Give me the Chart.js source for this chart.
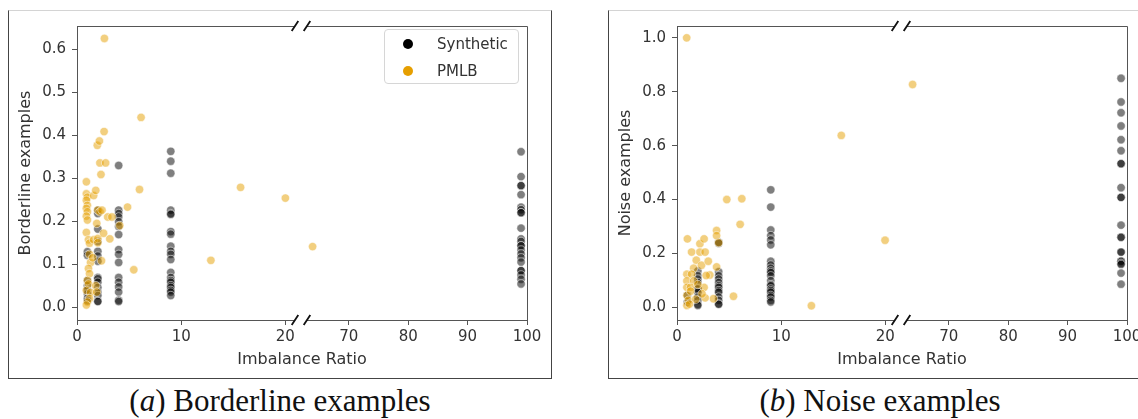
<!DOCTYPE html>
<html>
<head>
<meta charset="utf-8">
<script src="https://cdn.jsdelivr.net/npm/chart.js@4.4.1/dist/chart.umd.min.js"></script>
<style>
  body { margin: 0; width: 1138px; height: 419px; overflow: hidden; background: #fff; position: relative; font-family: "DejaVu Sans", sans-serif; }
  .panel { position: absolute; top: 10px; width: 544px; height: 369px; box-sizing: border-box; border: 1px solid #444; border-top-color: #d4d4d4; background: #fff; }
  .panel canvas { display: block; }
  .caption { position: absolute; top: 385px; width: 544px; text-align: center; font: 31px "Liberation Serif", serif; line-height: 31px; color: #111; white-space: nowrap; }
  .legend { position: absolute; left: 384px; top: 29px; width: 135px; height: 55px; box-sizing: border-box; border: 1px solid #d6d6d6; border-radius: 4px; background: rgba(255,255,255,0.8); font-size: 15px; color: #333; }
  .legend .row { position: absolute; left: 0; height: 20px; line-height: 20px; }
  .legend .dot { position: absolute; left: 18px; top: 5px; width: 10px; height: 10px; border-radius: 50%; }
  .legend .txt { position: absolute; left: 52px; top: 0; }
</style>
</head>
<body>

<div class="panel" style="left:8px"><canvas id="borderChart" width="542" height="367"></canvas></div>
<div class="panel" style="left:608px"><canvas id="noiseChart" width="542" height="367"></canvas></div>
<div class="legend" id="legend"></div>
<div class="caption" style="left:8px">(<i>a</i>) Borderline examples</div>
<div class="caption" style="left:608px">(<i>b</i>) Noise examples</div>

<script>
// imbalance ratios used by the generated datasets
const synthRatios = [1, 2, 4, 9, 99];

// share of borderline examples, one list per synthetic ratio
const synthBorderline = [
  [0.129, 0.121, 0.062, 0.050, 0.040, 0.031, 0.020, 0.015],
  [0.226, 0.218, 0.182, 0.153, 0.130, 0.119, 0.107, 0.069, 0.066, 0.058, 0.046, 0.035, 0.027, 0.014, 0.013],
  [0.330, 0.226, 0.218, 0.210, 0.199, 0.188, 0.169, 0.134, 0.123, 0.104, 0.069, 0.058, 0.047, 0.035, 0.016, 0.013],
  [0.363, 0.340, 0.312, 0.226, 0.218, 0.216, 0.176, 0.170, 0.142, 0.130, 0.123, 0.111, 0.081, 0.069, 0.062, 0.058, 0.050, 0.046, 0.039, 0.035, 0.027],
  [0.362, 0.304, 0.283, 0.283, 0.262, 0.233, 0.227, 0.220, 0.220, 0.184, 0.159, 0.153, 0.143, 0.143, 0.133, 0.124, 0.115, 0.105, 0.085, 0.085, 0.075, 0.065, 0.054]
];

// share of noise examples, one list per synthetic ratio
const synthNoise = [
  [0.045, 0.020],
  [0.135, 0.117, 0.105, 0.092, 0.068, 0.068, 0.056, 0.038, 0.026, 0.011, 0.007],
  [0.242, 0.238, 0.132, 0.117, 0.105, 0.092, 0.080, 0.074, 0.062, 0.056, 0.038, 0.026, 0.013, 0.011],
  [0.436, 0.372, 0.287, 0.266, 0.250, 0.232, 0.171, 0.157, 0.145, 0.135, 0.129, 0.117, 0.099, 0.084, 0.080, 0.068, 0.062, 0.056, 0.044, 0.038, 0.026, 0.020],
  [0.850, 0.762, 0.722, 0.673, 0.622, 0.581, 0.533, 0.533, 0.444, 0.408, 0.408, 0.305, 0.260, 0.260, 0.205, 0.205, 0.171, 0.171, 0.163, 0.159, 0.127, 0.086]
];

// PMLB datasets: imbalance ratio and borderline share
const pmlbBorderRatio = [0.9, 0.9, 1.0, 0.9, 1.0, 0.9, 1.0, 0.9, 1.0, 0.9, 1.1, 1.2, 1.2, 1.3, 1.1, 1.2, 1.0, 1.1, 0.9, 1.3,
  1.2, 1.0, 0.9, 1.6, 1.8, 1.6, 1.5, 1.8, 1.9, 1.95, 2.15, 2.6, 2.63, 2.2, 2.75, 2.3, 2.0, 2.2, 2.4, 1.9,
  2.0, 2.0, 2.95, 3.35, 2.55, 3.15, 2.35, 4.1, 4.85, 5.45, 6.0, 6.15, 12.85, 15.7, 20.0, 63.9];
const pmlbBorderline = [0.292, 0.264, 0.256, 0.249, 0.237, 0.230, 0.222, 0.212, 0.203, 0.174, 0.157, 0.149, 0.123, 0.104, 0.090, 0.078, 0.062, 0.054, 0.039, 0.034,
  0.020, 0.012, 0.005, 0.260, 0.272, 0.157, 0.115, 0.050, 0.035, 0.377, 0.387, 0.409, 0.626, 0.336, 0.336, 0.309, 0.226, 0.222, 0.226, 0.195,
  0.160, 0.150, 0.210, 0.210, 0.172, 0.159, 0.108, 0.190, 0.233, 0.087, 0.274, 0.442, 0.109, 0.279, 0.254, 0.141];

// PMLB datasets: imbalance ratio and noise share
const pmlbNoiseRatio = [0.93, 15.77, 63.9, 19.97, 4.78, 6.22, 6.06, 12.9, 5.42, 1.0, 2.2, 2.6, 3.8, 3.8, 4.0, 1.4, 2.2, 2.7, 1.85, 2.35,
  3.0, 1.6, 0.95, 1.4, 3.15, 2.8, 0.95, 1.6, 0.95, 1.3, 2.6, 3.5, 2.7, 0.95, 1.1, 0.95, 1.3, 1.8, 2.4, 2.0, 1.2, 3.8];
const pmlbNoise = [1.0, 0.638, 0.827, 0.249, 0.400, 0.403, 0.308, 0.006, 0.041, 0.254, 0.236, 0.254, 0.285, 0.266, 0.240, 0.205, 0.205, 0.205, 0.175, 0.156,
  0.171, 0.145, 0.123, 0.123, 0.120, 0.118, 0.098, 0.098, 0.074, 0.074, 0.074, 0.032, 0.035, 0.044, 0.026, 0.007, 0.060, 0.030, 0.050, 0.085, 0.012, 0.150];

// tick labels
const nearTicks = [0, 10, 20];
const farTicks = [70, 80, 90, 100];
const borderTicks = [0, 0.1, 0.2, 0.3, 0.4, 0.5, 0.6];
const noiseTicks = [0, 0.2, 0.4, 0.6, 0.8, 1.0];

// broken x axis: low part 0..NEAR_MAX, high part FAR_MIN..100
const NEAR_MAX = 21.5;
const FAR_MIN = 61.95;
const BREAK_HALF = 6;

const SPINE = '#555';
const TEXT = '#333';
const series = [
  { label: 'Synthetic', fill: 'rgba(0,0,0,0.5)', solid: '#000' },
  { label: 'PMLB', fill: 'rgba(230,159,0,0.5)', solid: '#E69F00' }
];

Chart.defaults.font.family = '"DejaVu Sans", sans-serif';

function groupedPoints(groups) {
  const pts = [];
  groups.forEach((vals, i) => vals.forEach(v => pts.push({ x: synthRatios[i], y: v })));
  return pts;
}

function pairedPoints(xs, ys) {
  return xs.map((x, i) => ({ x: x, y: ys[i] }));
}

function axisStyle(tickValues, fmt, pad) {
  return {
    border: { color: SPINE, width: 1 },
    grid: { drawOnChartArea: false, color: SPINE, tickLength: 5 },
    ticks: { color: TEXT, font: { size: 15 }, padding: pad, maxRotation: 0, autoSkip: false, callback: fmt },
    afterBuildTicks: s => { s.ticks = tickValues.map(v => ({ value: v })); }
  };
}

// top/right spines, gap in the x axis and the // marks
const brokenFrame = {
  id: 'brokenFrame',
  afterDraw(chart) {
    const { ctx, chartArea: a } = chart;
    const cut = chart.scales.x1.right;
    const gl = cut - BREAK_HALF, gr = cut + BREAK_HALF;
    const top = Math.round(a.top) + 0.5, right = Math.round(a.right) + 0.5;
    ctx.save();
    ctx.clearRect(gl, a.bottom - 2, gr - gl, 4);
    ctx.strokeStyle = SPINE;
    ctx.lineWidth = 1;
    ctx.beginPath();
    ctx.moveTo(a.left, top); ctx.lineTo(gl, top);
    ctx.moveTo(gr, top); ctx.lineTo(right, top); ctx.lineTo(right, a.bottom);
    ctx.stroke();
    ctx.strokeStyle = '#111';
    ctx.lineWidth = 1.8;
    ctx.beginPath();
    for (const y of [a.top, a.bottom]) {
      for (const x of [gl, gr]) {
        ctx.moveTo(x - 3.3, y + 5);
        ctx.lineTo(x + 3.3, y - 5);
      }
    }
    ctx.stroke();
    ctx.restore();
  }
};

function scatterSet(s, pts, axis) {
  return {
    label: s.label,
    data: pts,
    xAxisID: axis,
    backgroundColor: s.fill,
    borderColor: 'rgba(255,255,255,0.5)',
    borderWidth: 1,
    pointRadius: 4.2
  };
}

function drawPanel(id, yTitle, yMin, yMax, yTicks, synthPts, pmlbPts) {
  const near = pts => pts.filter(p => p.x <= NEAR_MAX);
  const far = pts => pts.filter(p => p.x > NEAR_MAX);
  const fmt1 = v => v.toFixed(1);
  const fmt0 = v => String(v);

  new Chart(document.getElementById(id), {
    type: 'scatter',
    data: {
      datasets: [
        scatterSet(series[1], near(pmlbPts), 'x1'),
        scatterSet(series[1], far(pmlbPts), 'x2'),
        scatterSet(series[0], near(synthPts), 'x1'),
        scatterSet(series[0], far(synthPts), 'x2')
      ]
    },
    options: {
      responsive: false,
      animation: false,
      layout: { padding: { left: 0, top: 10, right: 24, bottom: 8.8 } },
      scales: {
        x1: Object.assign(axisStyle(nearTicks, fmt0, 3), {
          type: 'linear', position: 'bottom', stack: 'ir', stackWeight: 224, min: 0, max: NEAR_MAX,
          afterFit: s => { s.height = 30; }
        }),
        x2: Object.assign(axisStyle(farTicks, fmt0, 3), {
          type: 'linear', position: 'bottom', stack: 'ir', stackWeight: 226, min: FAR_MIN, max: 100,
          afterFit: s => { s.height = 30; }
        }),
        y: Object.assign(axisStyle(yTicks, fmt1, 6), {
          type: 'linear', position: 'left', min: yMin, max: yMax,
          title: { display: true, text: yTitle, color: TEXT, font: { size: 16 }, padding: { top: 7.4, bottom: 0 } },
          afterFit: s => { s.width = 68; }
        })
      },
      plugins: {
        legend: { display: false },
        tooltip: { enabled: false },
        title: {
          display: true, text: 'Imbalance Ratio', position: 'bottom', fullSize: false,
          color: TEXT, font: { size: 16, weight: 'normal' }, padding: { top: 0, bottom: 0 }
        }
      }
    },
    plugins: [brokenFrame]
  });
}

drawPanel('borderChart', 'Borderline examples', -0.03, 0.655, borderTicks,
  groupedPoints(synthBorderline), pairedPoints(pmlbBorderRatio, pmlbBorderline));
drawPanel('noiseChart', 'Noise examples', -0.047, 1.044, noiseTicks,
  groupedPoints(synthNoise), pairedPoints(pmlbNoiseRatio, pmlbNoise));

// legend of the borderline panel
const legend = document.getElementById('legend');
series.forEach((s, i) => {
  const row = document.createElement('div');
  row.className = 'row';
  row.style.top = (4 + i * 26.5) + 'px';
  row.innerHTML = '<span class="dot" style="background:' + s.solid + '"></span><span class="txt">' + s.label + '</span>';
  legend.appendChild(row);
});
</script>
</body>
</html>
